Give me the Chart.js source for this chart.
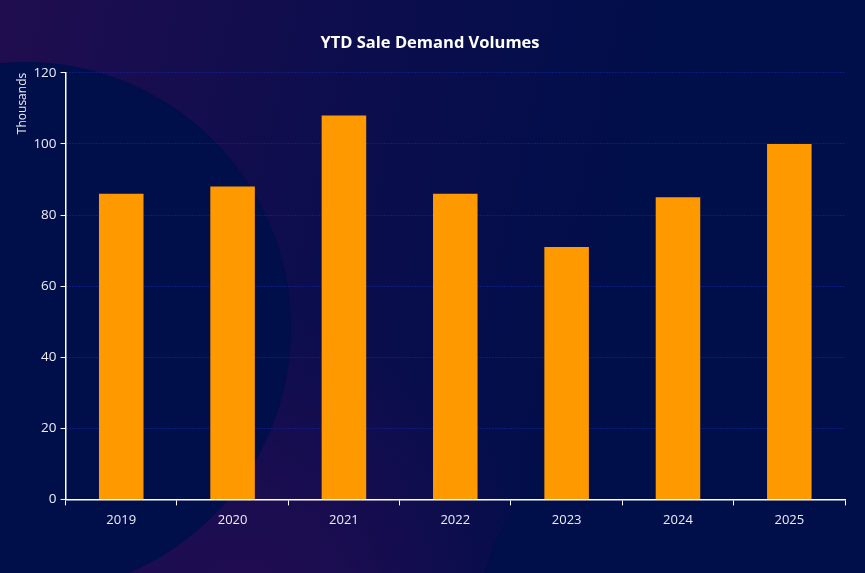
<!DOCTYPE html>
<html>
<head>
<meta charset="utf-8">
<script src="https://cdn.jsdelivr.net/npm/chart.js@4.4.1/dist/chart.umd.min.js"></script>
<style>
  html, body { margin: 0; padding: 0; background: #000E4A; }
  canvas { display: block; }
</style>
</head>
<body>
<canvas id="salesChart" width="865" height="573"></canvas>
<script>
var years = ["2019", "2020", "2021", "2022", "2023", "2024", "2025"]
var volumes = [86, 88, 108, 86, 71, 85, 100] // thousands
var yTicks = [0, 20, 40, 60, 80, 100, 120]

// slide-like background: purple wash with two navy circles
var backdrop = {
   id: "backdrop",
   beforeDraw: function (chart) {
      var c = chart.ctx
      var w = chart.width, h = chart.height
      c.save()
      var g = c.createLinearGradient(0, 0, w * 0.75, h * 0.25)
      g.addColorStop(0, "#200D50")
      g.addColorStop(0.5, "#0E0D4D")
      g.addColorStop(1, "#000E4A")
      c.fillStyle = g
      c.fillRect(0, 0, w, h)
      var g2 = c.createRadialGradient(250, 610, 10, 250, 610, 300)
      g2.addColorStop(0, "rgba(36,12,82,0.9)")
      g2.addColorStop(1, "rgba(36,12,82,0)")
      c.fillStyle = g2
      c.fillRect(0, 0, w, h)
      c.fillStyle = "#000E4A"
      c.beginPath()
      c.arc(25, 328, 266, 0, Math.PI * 2)
      c.fill()
      c.beginPath()
      c.arc(720, 640, 245, 0, Math.PI * 2)
      c.fill()
      c.restore()
   },
}

var ctx = document.getElementById("salesChart").getContext("2d")
Chart.defaults.font.family = "'Open Sans', 'Noto Sans', sans-serif"
Chart.defaults.color = "#EDEDF5"

var chart = new Chart(ctx, {
   type: "bar",
   data: {
      labels: years,
      datasets: [
         {
            label: "YTD",
            data: volumes,
            backgroundColor: "#FF9900",
            borderWidth: 0,
            categoryPercentage: 1,
            barPercentage: 0.4,
         },
      ],
   },
   plugins: [backdrop],
   options: {
      responsive: false,
      animation: false,
      layout: { padding: { left: 15, right: 20, top: 19, bottom: 38 } },
      plugins: {
         legend: { display: false },
         tooltip: { enabled: false },
         title: {
            display: true,
            text: "YTD Sale Demand Volumes",
            color: "#FFFFFF",
            font: { size: 16.5, weight: "bold" },
            padding: { top: 14, bottom: 20 },
         },
      },
      scales: {
         x: {
            grid: {
               display: true,
               drawOnChartArea: false,
               drawTicks: true,
               tickLength: 6,
               color: "#FFFFFF",
               offset: true,
            },
            border: { display: true, color: "#FFFFFF", width: 1.5 },
            ticks: { color: "#EDEDF5", font: { size: 13 }, padding: 7 },
         },
         y: {
            min: 0,
            max: 120,
            afterBuildTicks: function (axis) {
               axis.ticks = yTicks.map(function (v) { return { value: v } })
            },
            grid: {
               color: "#1428B0",
               lineWidth: 1,
               tickColor: "#FFFFFF",
               tickLength: 5,
            },
            border: { display: true, color: "#FFFFFF", width: 1.5, dash: [1, 2] },
            ticks: { color: "#EDEDF5", font: { size: 13.5 }, padding: 4 },
            title: {
               display: true,
               text: "Thousands",
               align: "end",
               color: "#EDEDF5",
               font: { size: 12 },
               padding: { top: 0, bottom: 0 },
            },
         },
      },
   },
})
</script>
</body>
</html>
